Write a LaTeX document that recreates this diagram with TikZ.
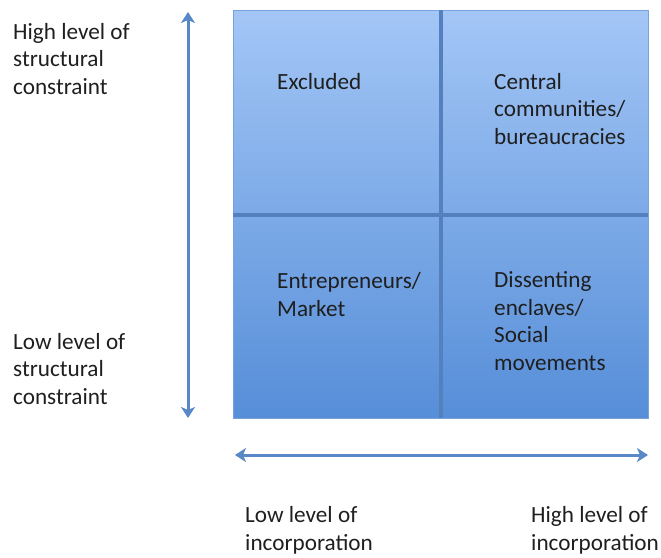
\documentclass[tikz,border=0pt]{standalone}
\usepackage{fontspec}
\setmainfont{Carlito}
\usetikzlibrary{arrows.meta}
\definecolor{arrowblue}{RGB}{88,136,198}
\definecolor{boxtop}{RGB}{163,198,246}
\definecolor{boxbot}{RGB}{86,142,216}
\definecolor{divider}{RGB}{84,128,190}
\definecolor{boxedge}{RGB}{120,162,220}
\tikzset{
  lbl/.style={anchor=base west, inner sep=0pt, align=left, text=black!88,
    font=\fontsize{23.2}{27.5}\selectfont},
  axis/.style={draw=arrowblue, line width=3pt,
    {Stealth[length=11pt,width=14pt,inset=3pt]}-{Stealth[length=11pt,width=14pt,inset=3pt]}},
  divline/.style={draw=divider, line width=3.5pt}
}
\begin{document}
\begin{tikzpicture}[x=1pt,y=-1pt]
\useasboundingbox (0,0) rectangle (661,557);
% grid
\shade[top color=boxtop, bottom color=boxbot] (233,10) rectangle (648,418);
\draw[boxedge, line width=1pt] (233,10) rectangle (648,418);
\coordinate (vt) at (441,10);
\coordinate (vb) at (441,418);
\coordinate (hl) at (233,215);
\coordinate (hr) at (648,215);
\draw[divline] (vt) -- (vb);
\draw[divline] (hl) -- (hr);
% axes
\coordinate (ytop) at (188,12);
\coordinate (ybot) at (188,418);
\coordinate (xl) at (235,455);
\coordinate (xr) at (648,455);
\draw[axis] (ytop) -- (ybot);
\draw[axis] (xl) -- (xr);
% axis labels (anchored at the baseline of the last line)
\node[lbl] (hs) at (13,94) {High level of\\structural\\constraint};
\node[lbl] (ls) at (13,404) {Low level of\\structural\\constraint};
\node[lbl] (li) at (245,550) {Low level of\\incorporation};
\node[lbl] (hi) at (531,550) {High level of\\incorporation};
% quadrant labels
\node[lbl] (q1) at (277,89) {Excluded};
\node[lbl] (q2) at (494,144) {Central\\communities/\\bureaucracies};
\node[lbl] (q3) at (277,316) {Entrepreneurs/\\Market};
\node[lbl] (q4) at (494,370) {Dissenting\\enclaves/\\Social\\movements};
\end{tikzpicture}
\end{document}
